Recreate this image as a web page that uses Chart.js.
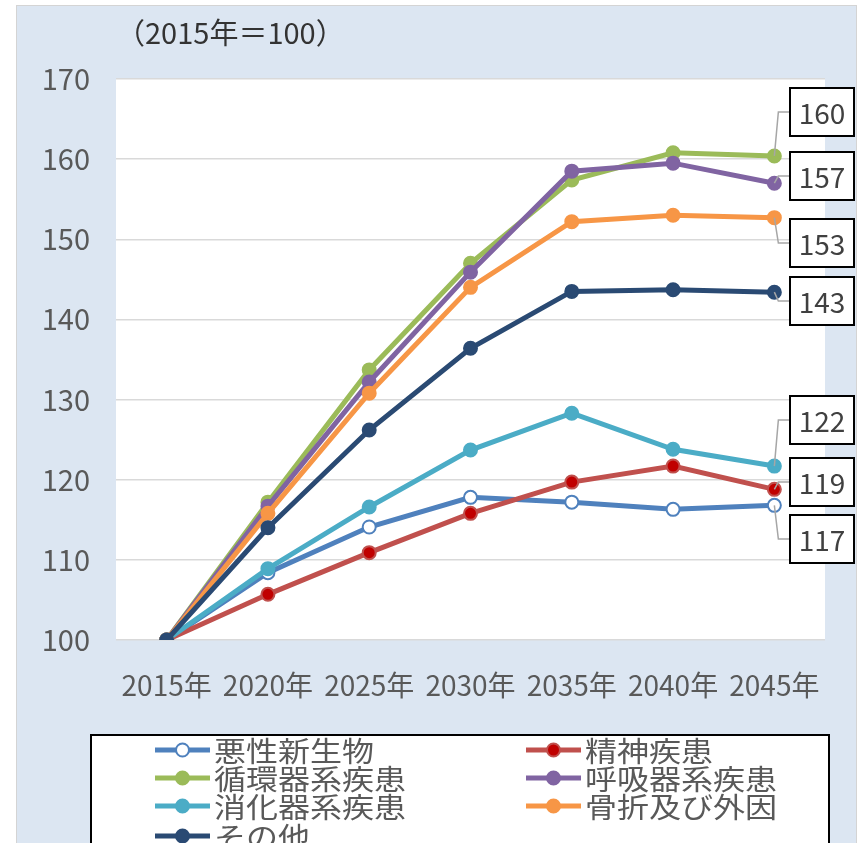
<!DOCTYPE html>
<html>
<head>
<meta charset="utf-8">
<script src="https://cdn.jsdelivr.net/npm/chart.js@4/dist/chart.umd.min.js"></script>
<style>
html,body{margin:0;padding:0;background:#fff;}
#wrap{width:861px;height:843px;position:relative;}
</style>
</head>
<body>
<div id="wrap"><canvas id="c" width="861" height="843"></canvas></div>
<script>
// ---- data ----
const categories = ['2015年','2020年','2025年','2030年','2035年','2040年','2045年'];
const seriesNames = ['悪性新生物','精神疾患','循環器系疾患','呼吸器系疾患','消化器系疾患','骨折及び外因','その他'];
const akusei   = [100, 108.4, 114.1, 117.8, 117.2, 116.3, 116.8];
const seishin  = [100, 105.7, 110.9, 115.8, 119.7, 121.7, 118.8];
const junkan   = [100, 117.2, 133.7, 147.0, 157.4, 160.8, 160.4];
const kokyu    = [100, 116.7, 132.2, 145.9, 158.5, 159.5, 157.0];
const shoka    = [100, 108.9, 116.6, 123.7, 128.3, 123.8, 121.7];
const kossetsu = [100, 115.8, 130.8, 144.0, 152.2, 153.0, 152.7];
const sonota   = [100, 114.0, 126.2, 136.4, 143.5, 143.7, 143.4];
const yTickMin = 100, yTickMax = 170, yTickStep = 10;
const unitLabel = '（2015年＝100）';

// ---- styles / layout (not data) ----
const FONT = "'Noto Sans CJK JP','Noto Sans',sans-serif";
const lineColors  = ['#4f81bd','#c0504d','#9bbb59','#8064a2','#4bacc6','#f79646','#2a4a73'];
const pointFills  = ['#ffffff','#c00000','#9bbb59','#8064a2','#4bacc6','#f79646','#2a4a73'];
const labelBoxCenterY = [539, 482, 112, 176, 420, 243, 301];
const legendRowsY = [750, 778, 806, 836];
const legendColX = [155, 526];

const allSeries = [akusei, seishin, junkan, kokyu, shoka, kossetsu, sonota];

const datasets = allSeries.map((d, i) => ({
  label: seriesNames[i],
  data: d,
  borderColor: lineColors[i],
  backgroundColor: pointFills[i],
  borderWidth: 5,
  pointRadius: 6.5,
  pointBorderWidth: 2,
  pointBackgroundColor: pointFills[i],
  pointBorderColor: lineColors[i],
  tension: 0,
  order: 10 - i
}));

const bgPlugin = {
  id: 'bg',
  beforeDraw(chart) {
    const ctx = chart.ctx, a = chart.chartArea;
    ctx.save();
    ctx.fillStyle = '#ffffff';
    ctx.fillRect(0, 0, chart.width, chart.height);
    ctx.fillStyle = '#dce6f2';
    ctx.fillRect(16, 5, 840, 845);
    ctx.strokeStyle = '#d4d4d4';
    ctx.lineWidth = 1;
    ctx.strokeRect(16.5, 5.5, 840, 845);
    ctx.fillStyle = '#ffffff';
    ctx.fillRect(a.left, a.top, a.right - a.left, a.bottom - a.top);
    // unit label
    ctx.fillStyle = '#333333';
    ctx.font = '29px ' + FONT;
    ctx.textBaseline = 'middle';
    ctx.textAlign = 'left';
    ctx.fillText(unitLabel, 116, 33);
    ctx.restore();
  },
  afterDraw(chart) {
    const ctx = chart.ctx;
    ctx.save();
    // data label boxes with leader lines
    chart.data.datasets.forEach((ds, i) => {
      const meta = chart.getDatasetMeta(i);
      const last = meta.data[meta.data.length - 1];
      const val = ds.data[ds.data.length - 1];
      const cy = labelBoxCenterY[i];
      const bx = 790, bw = 64, bh = 48;
      ctx.strokeStyle = '#a6a6a6';
      ctx.lineWidth = 1.5;
      ctx.beginPath();
      ctx.moveTo(last.x, last.y);
      ctx.lineTo(last.x + 4, cy);
      ctx.lineTo(bx, cy);
      ctx.stroke();
      ctx.fillStyle = '#ffffff';
      ctx.fillRect(bx, cy - bh / 2, bw, bh);
      ctx.strokeStyle = '#000000';
      ctx.lineWidth = 2;
      ctx.strokeRect(bx, cy - bh / 2, bw, bh);
      ctx.fillStyle = '#404040';
      ctx.font = '28px ' + FONT;
      ctx.textAlign = 'center';
      ctx.textBaseline = 'middle';
      ctx.fillText(String(Math.round(val)), bx + bw / 2, cy + 1);
    });
    // legend
    ctx.fillStyle = '#ffffff';
    ctx.fillRect(91, 735, 738, 130);
    ctx.strokeStyle = '#000000';
    ctx.lineWidth = 2;
    ctx.strokeRect(91, 735, 738, 130);
    chart.data.datasets.forEach((ds, i) => {
      const col = i % 2, row = Math.floor(i / 2);
      const x = legendColX[col], y = legendRowsY[row];
      ctx.strokeStyle = ds.borderColor;
      ctx.lineWidth = 5;
      ctx.beginPath();
      ctx.moveTo(x, y);
      ctx.lineTo(x + 55, y);
      ctx.stroke();
      ctx.beginPath();
      ctx.arc(x + 27.5, y, 6.5, 0, Math.PI * 2);
      ctx.fillStyle = ds.pointBackgroundColor;
      ctx.fill();
      ctx.lineWidth = 2;
      ctx.strokeStyle = ds.pointBorderColor;
      ctx.stroke();
      ctx.save();
      ctx.translate(x + 59, y);
      ctx.scale(1, 0.88);
      ctx.fillStyle = '#595959';
      ctx.font = '32px ' + FONT;
      ctx.textAlign = 'left';
      ctx.textBaseline = 'middle';
      ctx.fillText(ds.label, 0, 1);
      ctx.restore();
    });
    ctx.restore();
  }
};

new Chart(document.getElementById('c'), {
  type: 'line',
  data: { labels: categories, datasets },
  options: {
    responsive: false,
    animation: false,
    devicePixelRatio: 1,
    layout: { padding: { left: 0, right: 36, top: 79, bottom: 143 } },
    plugins: { legend: { display: false }, title: { display: false }, tooltip: { enabled: false } },
    scales: {
      x: {
        offset: true,
        grid: { display: false },
        border: { display: false },
        ticks: { color: '#595959', font: { family: FONT, size: 28 }, padding: 21, maxRotation: 0, autoSkip: false },
        afterFit(s) { s.height = 60; }
      },
      y: {
        min: yTickMin, max: yTickMax,
        grid: { color: '#d9d9d9', lineWidth: 1.5, drawTicks: false },
        border: { display: false },
        ticks: { stepSize: yTickStep, color: '#595959', font: { family: FONT, size: 29 }, padding: 26 },
        afterFit(s) { s.width = 116; }
      }
    }
  },
  plugins: [bgPlugin]
});
</script>
</body>
</html>
